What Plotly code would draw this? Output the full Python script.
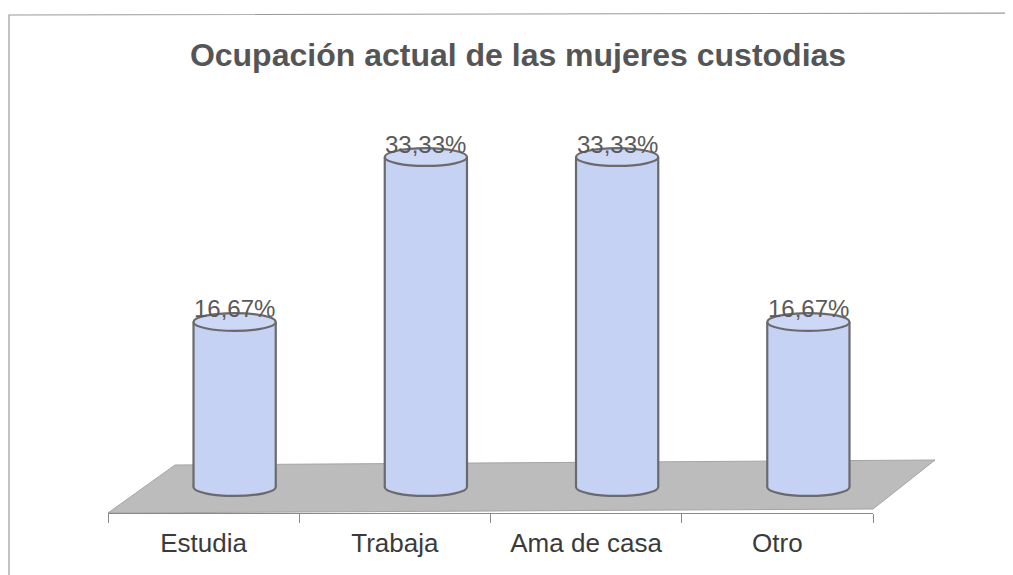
import plotly.graph_objects as go

categories = ["Estudia", "Trabaja", "Ama de casa", "Otro"]
values = [16.67, 33.33, 33.33, 16.67]
labels = ["16,67%", "33,33%", "33,33%", "16,67%"]
title = "Ocupación actual de las mujeres custodias"

OFF = 8  # default body margin of the html page
W, H = 1013 - OFF, 575 - OFF
def fx(px): return (px - OFF) / W
def fy(py): return 1 - (py - OFF) / H

BAR_FILL = "#c6d2f4"
TOP_FILL = "#cdd7f6"
EDGE = "#6a6a6a"
half_w = 0.215
ell_h = 0.9
PXU = 9.9           # pixels per percentage unit
ZERO_PX = 487       # pixel row of value 0
BOTTOM_PX = 525     # bottom of bar subplot (room for lower ellipse)

fig = go.Figure()
fig.add_trace(go.Scatter(x=categories, y=[0] * len(categories), mode="markers",
                         marker=dict(opacity=0), hoverinfo="skip", showlegend=False,
                         xaxis="x", yaxis="y"))
fig.add_trace(go.Bar(x=list(range(len(categories))), y=values, width=2 * half_w,
                     marker=dict(color=BAR_FILL, line=dict(width=0)),
                     hoverinfo="skip", showlegend=False, xaxis="x2", yaxis="y2"))

shapes = []
shapes.append(dict(type="path", xref="paper", yref="paper",
                   path=f"M {fx(9)},{fy(590)} L {fx(9)},{fy(15)} L {fx(1020)},{fy(13)}",
                   line=dict(color="#9a9a9a", width=1.2), layer="below"))
shapes.append(dict(type="path", xref="paper", yref="paper",
                   path=f"M {fx(108)},{fy(513)} L {fx(873)},{fy(509)} L {fx(935)},{fy(460)} L {fx(175)},{fy(465)} Z",
                   fillcolor="#bcbcbc", line=dict(color="#a4a4a4", width=1), layer="below"))
for i, v in enumerate(values):
    shapes.append(dict(type="circle", xref="x2", yref="y2",
                       x0=i - half_w, x1=i + half_w, y0=-ell_h, y1=ell_h,
                       fillcolor=BAR_FILL, line=dict(color=EDGE, width=2.2), layer="below"))
    for s in (-1, 1):
        shapes.append(dict(type="line", xref="x2", yref="y2",
                           x0=i + s * half_w, x1=i + s * half_w, y0=0, y1=v,
                           line=dict(color=EDGE, width=2.2), layer="above"))
    shapes.append(dict(type="circle", xref="x2", yref="y2",
                       x0=i - half_w, x1=i + half_w, y0=v - ell_h, y1=v + ell_h,
                       fillcolor=TOP_FILL, line=dict(color=EDGE, width=2.2), layer="above"))

annotations = []
for i, (v, t) in enumerate(zip(values, labels)):
    annotations.append(dict(x=i, y=v, xref="x2", yref="y2", text=t, showarrow=False,
                            yshift=13, font=dict(family="Liberation Sans, Arial", size=24, color="#5a5a5a")))

y2_lo = -(BOTTOM_PX - ZERO_PX) / PXU
y2_hi = (ZERO_PX - OFF) / PXU

fig.update_layout(
    width=W, height=H,
    margin=dict(l=0, r=0, t=0, b=0),
    paper_bgcolor="white", plot_bgcolor="rgba(0,0,0,0)",
    title=dict(text=title, x=fx(518), xanchor="center", y=fy(55), yanchor="middle",
               font=dict(family="Liberation Sans, Arial", size=32, color="#555555", weight="bold")),
    xaxis=dict(domain=[fx(108), fx(873)], type="category", categoryarray=categories,
               range=[-0.5, 3.5], tickson="boundaries", ticks="outside", ticklen=9,
               tickcolor="#8a8a8a", tickwidth=1, showline=True, linecolor="#8a8a8a", linewidth=1,
               showgrid=False, zeroline=False, anchor="y", ticklabelstandoff=7,
               tickfont=dict(family="Liberation Sans, Arial", size=26, color="#3a3a3a")),
    yaxis=dict(domain=[fy(513), 1], range=[0, 1], visible=False, fixedrange=True),
    xaxis2=dict(domain=[fx(139), fx(904)], range=[-0.5, 3.5], visible=False, anchor="y2"),
    yaxis2=dict(domain=[fy(BOTTOM_PX), 1], range=[y2_lo, y2_hi], visible=False, anchor="x2"),
    shapes=shapes, annotations=annotations, showlegend=False,
)
fig.write_html("out.html")
